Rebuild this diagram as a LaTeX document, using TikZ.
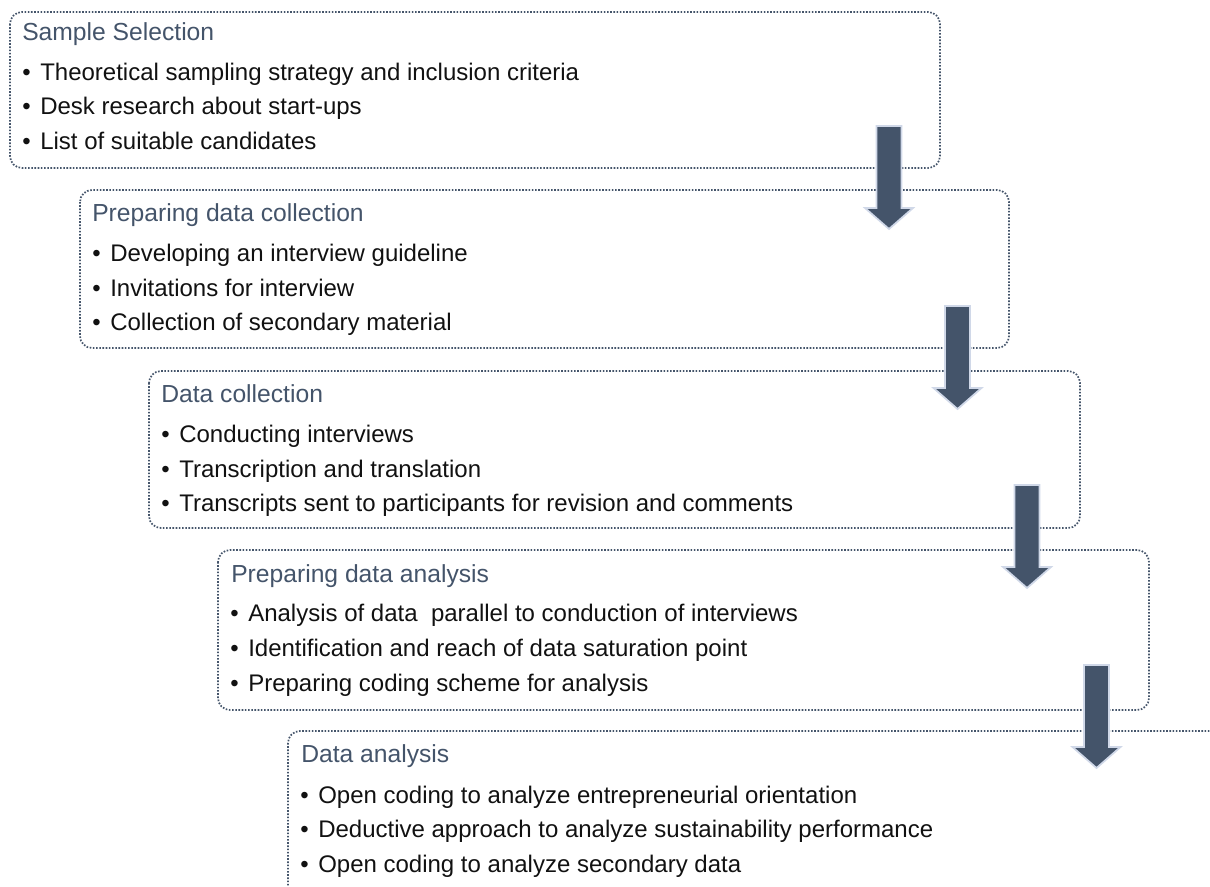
\documentclass[tikz,border=0pt]{standalone}
\usepackage{fontspec}
\setmainfont{Liberation Sans}
\definecolor{slate}{HTML}{44546A}
\definecolor{glow}{HTML}{D0D8E8}
\definecolor{txt}{HTML}{111111}
\begin{document}
\begin{tikzpicture}[x=0.75pt,y=-0.75pt,
  stagebox/.style={draw=slate, line width=1.3pt, dash pattern=on 1.2pt off 1.2pt, rounded corners=9pt},
  titletext/.style={anchor=base west, inner sep=0pt, text=slate, font=\fontsize{18.5}{22}\selectfont},
  itemtext/.style={anchor=base west, inner sep=0pt, text=txt, font=\fontsize{18}{22}\selectfont},
  blockarrow/.style={fill=slate, draw=glow, line width=1.3pt}]
\useasboundingbox (0,0) rectangle (1210,886);
\clip (0,0) rectangle (1210,886);

% boxes
\draw[stagebox] (10,12) rectangle (940,168);
\coordinate (b1) at (10,12);
\draw[stagebox] (80,190) rectangle (1009,348);
\coordinate (b2) at (80,190);
\draw[stagebox] (149,371) rectangle (1080,528);
\coordinate (b3) at (149,371);
\draw[stagebox] (218,550) rectangle (1149,710);
\coordinate (b4) at (218,550);
\draw[stagebox] (288,731) rectangle (1224,900);
\coordinate (b5) at (288,731);

% texts
\node[titletext] (t1) at (22,40) {Sample Selection};
\node[itemtext] (t1a) at (22,80) {•};
\node[itemtext] (t1at) at (40,80) {Theoretical sampling strategy and inclusion criteria};
\node[itemtext] (t1b) at (22,114) {•};
\node[itemtext] (t1bt) at (40,114) {Desk research about start-ups};
\node[itemtext] (t1c) at (22,149) {•};
\node[itemtext] (t1ct) at (40,149) {List of suitable candidates};

\node[titletext] (t2) at (92,221) {Preparing data collection};
\node[itemtext] (t2a) at (92,261) {•};
\node[itemtext] (t2at) at (110,261) {Developing an interview guideline};
\node[itemtext] (t2b) at (92,296) {•};
\node[itemtext] (t2bt) at (110,296) {Invitations for interview};
\node[itemtext] (t2c) at (92,330) {•};
\node[itemtext] (t2ct) at (110,330) {Collection of secondary material};

\node[titletext] (t3) at (161,402) {Data collection};
\node[itemtext] (t3a) at (161,442) {•};
\node[itemtext] (t3at) at (179,442) {Conducting interviews};
\node[itemtext] (t3b) at (161,477) {•};
\node[itemtext] (t3bt) at (179,477) {Transcription and translation};
\node[itemtext] (t3c) at (161,511) {•};
\node[itemtext] (t3ct) at (179,511) {Transcripts sent to participants for revision and comments};

\node[titletext] (t4) at (231,582) {Preparing data analysis};
\node[itemtext] (t4a) at (230,621) {•};
\node[itemtext] (t4at) at (248,621) {Analysis of data\ \ parallel to conduction of interviews};
\node[itemtext] (t4b) at (230,656) {•};
\node[itemtext] (t4bt) at (248,656) {Identification and reach of data saturation point};
\node[itemtext] (t4c) at (230,691) {•};
\node[itemtext] (t4ct) at (248,691) {Preparing coding scheme for analysis};

\node[titletext] (t5) at (301,762) {Data analysis};
\node[itemtext] (t5a) at (300,803) {•};
\node[itemtext] (t5at) at (318,803) {Open coding to analyze entrepreneurial orientation};
\node[itemtext] (t5b) at (300,837) {•};
\node[itemtext] (t5bt) at (318,837) {Deductive approach to analyze sustainability performance};
\node[itemtext] (t5c) at (300,872) {•};
\node[itemtext] (t5ct) at (318,872) {Open coding to analyze secondary data};

% block arrows
\foreach \cx/\ty in {889/126, 957.5/306, 1027/485, 1096.5/665}{
  \draw[blockarrow] (\cx-12.5,\ty) -- (\cx+12.5,\ty) -- (\cx+12.5,\ty+82) -- (\cx+24,\ty+82)
     -- (\cx,\ty+103) -- (\cx-24,\ty+82) -- (\cx-12.5,\ty+82) -- cycle;
}
\end{tikzpicture}
\end{document}
